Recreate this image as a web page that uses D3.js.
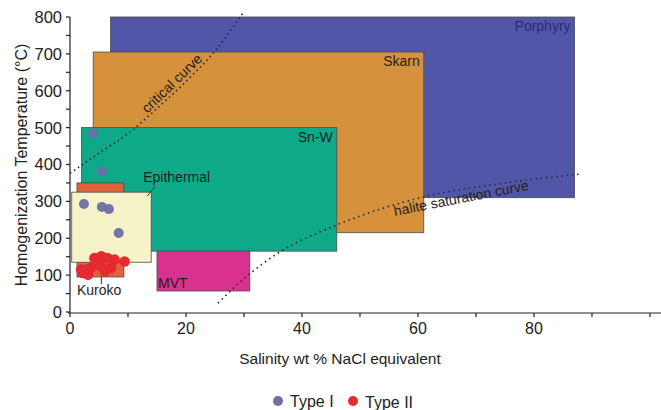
<!DOCTYPE html>
<html><head><meta charset="utf-8">
<script src="https://cdn.jsdelivr.net/npm/d3@7"></script>
<style>body{margin:0;background:#fff}svg{display:block;font-family:"Liberation Sans",Arial,sans-serif}</style>
</head><body><svg id="c" width="661" height="410"></svg>
<script>
// --- data ---
const fields = ["Porphyry","Skarn","Sn-W","MVT","Kuroko","Epithermal"];
const salMin = [7, 4, 2, 15, 1.2, 0.3];
const salMax = [87, 61, 46, 31, 9.3, 14];
const tMin = [310, 215, 165, 57, 95, 135];
const tMax = [800, 705, 500, 165, 350, 325];
const fieldColors = ["#5256a8","#d6913c","#0ea989","#d9318e","#e0643a","#f6f3c8"];
const type1Sal = [4.0, 5.5, 2.4, 5.5, 6.7, 8.4];
const type1T = [485, 382, 293, 285, 279, 214];
const type2Sal = [4.2,5.4,6.5,7.7,9.4,4.5,5.4,7.1,3.6,2.8,1.9,2.2,3.1,6.0,5.1];
const type2T = [146,151,146,142,137,128,124,119,119,115,115,106,101,110,133];
const criticalSal = [0,5,10,15,20,25,30];
const criticalT = [376,431,484,552,625,708,815];
const haliteSal = [25.5,30.7,35.9,46,61,75,88];
const haliteT = [24,100,160,236,312,350,374];
const xTicks = [0,20,40,60,80];
const yTicks = [0,100,200,300,400,500,600,700,800];

const svg = d3.select("#c");
const x = d3.scaleLinear().domain([0, 101.9]).range([70, 661]);
const y = d3.scaleLinear().domain([0, 800]).range([312, 17]);

// rectangles
const g = svg.append("g");
fields.forEach((f,i)=>{
  g.append("rect")
    .attr("x", x(salMin[i])).attr("y", y(tMax[i]))
    .attr("width", x(salMax[i])-x(salMin[i]))
    .attr("height", y(tMin[i])-y(tMax[i]))
    .attr("fill", fieldColors[i])
    .attr("stroke", "#4a4a4a").attr("stroke-width", 0.8);
});

// field labels
const lab = (t, px, py, anchor, col) => svg.append("text").attr("x",px).attr("y",py)
  .attr("text-anchor",anchor).attr("font-size",14).attr("fill",col||"#1e1e1e").text(t);
[0,1,2].forEach(i=>{
  lab(fields[i], x(salMax[i])-4, y(tMax[i])+14, "end", i===0?"#2a2d70":"#1e1e1e");
});
lab("MVT", x(salMin[3])+1, y(tMin[3])-3, "start");
lab("Epithermal", x(salMax[5])-8, y(tMax[5])-10, "start");
svg.append("line").attr("x1", x(salMax[5])-4).attr("y1", y(tMax[5])+4)
  .attr("x2", x(salMax[5])+4).attr("y2", y(tMax[5])-6).attr("stroke","#333").attr("stroke-width",1);
lab("Kuroko", x(salMin[4]), y(tMin[4])+18, "start");
svg.append("line").attr("x1", x(5.4)).attr("y1", y(tMin[4])).attr("x2", x(5.4)).attr("y2", y(tMin[4])+7)
  .attr("stroke","#333").attr("stroke-width",1);

// curves
const line = d3.line().x(d=>x(d[0])).y(d=>y(d[1])).curve(d3.curveMonotoneX);
svg.append("path").attr("d", line(criticalSal.map((s,i)=>[s,criticalT[i]])))
  .attr("fill","none").attr("stroke","#2a2a3a").attr("stroke-width",1.6).attr("stroke-dasharray","1.6,3.2");
svg.append("path").attr("d", line(haliteSal.map((s,i)=>[s,haliteT[i]])))
  .attr("fill","none").attr("stroke","#2a2a3a").attr("stroke-width",1.6).attr("stroke-dasharray","1.6,3.6");
svg.append("text").attr("transform",`translate(${x(19)-5},${y(600)-4}) rotate(-44)`)
  .attr("text-anchor","middle").attr("font-size",14).attr("fill","#222").text("critical curve");
svg.append("text").attr("transform",`translate(${x(67.6)},${y(296)}) rotate(-11)`)
  .attr("text-anchor","middle").attr("font-size",14).attr("fill","#222").text("halite saturation curve");

// points
type2Sal.forEach((s,i)=>{
  svg.append("circle").attr("cx",x(s)).attr("cy",y(type2T[i])).attr("r",5.3).attr("fill","#e52a30");
});
type1Sal.forEach((s,i)=>{
  svg.append("circle").attr("cx",x(s)).attr("cy",y(type1T[i])).attr("r",5).attr("fill","#6d6fa5").attr("opacity",0.95);
});

// axes
const xa = svg.append("g").attr("transform","translate(0,313)");
xa.append("line").attr("x1",68).attr("x2",661).attr("stroke","#222").attr("stroke-width",1.2);
d3.range(0,101,10).forEach(v=>{
  xa.append("line").attr("x1",x(v)).attr("x2",x(v)).attr("y1",0).attr("y2",4).attr("stroke","#222").attr("stroke-width",1.2);
});
xTicks.forEach(v=>{
  xa.append("text").attr("x",x(v)).attr("y",21).attr("text-anchor","middle").attr("font-size",16).attr("fill","#222").text(v);
});
const ya = svg.append("g").attr("transform","translate(70,0)");
ya.append("line").attr("y1",y(0)+1).attr("y2",y(800)).attr("stroke","#222").attr("stroke-width",1.2);
d3.range(0,801,50).forEach(v=>{
  ya.append("line").attr("x1",-4).attr("x2",0).attr("y1",y(v)).attr("y2",y(v)).attr("stroke","#222").attr("stroke-width",1.2);
});
yTicks.forEach(v=>{
  ya.append("text").attr("x",-8).attr("y",y(v)).attr("dy","0.36em").attr("text-anchor","end").attr("font-size",16.5).attr("fill","#222").text(v);
});
svg.append("text").attr("x",340).attr("y",364).attr("text-anchor","middle").attr("font-size",15.5).attr("fill","#222").text("Salinity wt % NaCl equivalent");
svg.append("text").attr("transform","translate(27,165) rotate(-90)").attr("text-anchor","middle").attr("font-size",16).attr("fill","#222").text("Homogenization Temperature (°C)");

// legend
const lg = svg.append("g");
lg.append("circle").attr("cx",278).attr("cy",401).attr("r",5).attr("fill","#6d6fa5");
lg.append("text").attr("x",290).attr("y",407).attr("font-size",16).attr("fill","#222").text("Type I");
lg.append("circle").attr("cx",353).attr("cy",401).attr("r",5).attr("fill","#e52a30");
lg.append("text").attr("x",365).attr("y",408).attr("font-size",16).attr("fill","#222").text("Type II");
</script></body></html>
